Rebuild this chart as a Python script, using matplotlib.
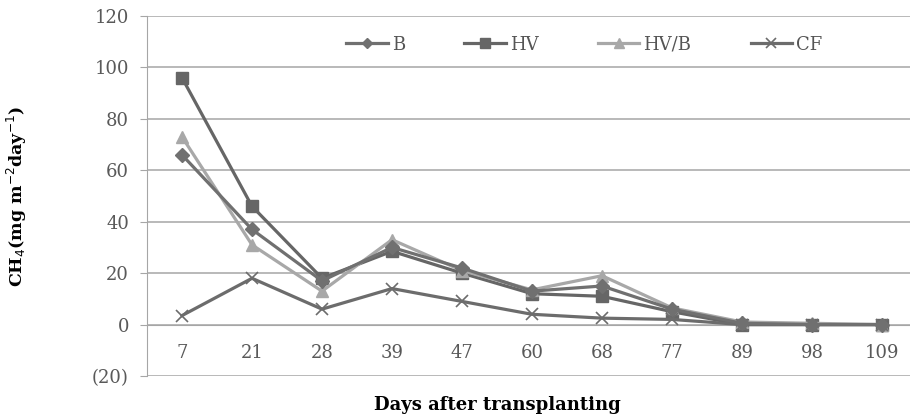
import matplotlib
matplotlib.use("Agg")
import matplotlib.pyplot as plt

days = ["7", "21", "28", "39", "47", "60", "68", "77", "89", "98", "109"]

b_vals = [66, 37, 17, 30, 22, 13, 15, 6, 0.5, 0, 0]
hv_vals = [96, 46, 18, 28.5, 20, 12, 11, 5, 0, 0, 0]
hvb_vals = [73, 31, 13, 33, 21, 13.5, 19, 6.5, 1, 0.5, 0]
cf_vals = [3.5, 18, 6, 14, 9, 4, 2.5, 2, 0, 0, 0]

y_ticks = [-20, 0, 20, 40, 60, 80, 100, 120]
y_labels = ["(20)", "0", "20", "40", "60", "80", "100", "120"]

FONT = "DejaVu Serif"
GRID = "#a6a6a6"
TXT = "#595959"

fig = plt.figure(figsize=(9.1, 4.17), dpi=100)
ax = fig.add_axes([147 / 910, 1 - 376 / 417, 1 - 147 / 910, (376 - 16) / 417])

x = list(range(len(days)))
ax.plot(x, b_vals, color="#707070", lw=2.3, marker="D", ms=7, label="B", zorder=4)
ax.plot(x, hv_vals, color="#666666", lw=2.3, marker="s", ms=9, label="HV", zorder=3)
ax.plot(x, hvb_vals, color="#a8a8a8", lw=2.3, marker="^", ms=9, label="HV/B", zorder=3)
ax.plot(x, cf_vals, color="#6c6c6c", lw=2.3, marker="x", ms=9, mew=1.2,
        label="CF", zorder=3)

# x axis sits on the zero line, like the excel original
ax.spines["bottom"].set_position(("data", 0))
ax.spines["bottom"].set_color(GRID)
ax.spines["top"].set_visible(False)
ax.spines["right"].set_visible(False)
ax.spines["left"].set_color(GRID)

ax.set_ylim(-20, 120)
ax.set_xlim(-0.5, 10.4)
ax.set_yticks(y_ticks)
ax.set_yticklabels(y_labels, family=FONT, fontsize=13, color=TXT)
ax.yaxis.grid(True, color=GRID, lw=1.1)
ax.set_axisbelow(True)

ax.set_xticks(x)
ax.set_xticklabels(days, family=FONT, fontsize=13, color=TXT)
ax.tick_params(axis="x", length=0, pad=14, labelsize=13)
ax.tick_params(axis="y", length=5, color=GRID, pad=8, labelsize=13)

ax.set_ylabel("CH$_4$(mg m$^{-2}$day$^{-1}$)", family=FONT, fontweight="bold",
              fontsize=12.5)
ax.yaxis.set_label_coords(-0.155, 0.5)
fig.text(497 / 910, 1 - 405 / 417, "Days after transplanting", family=FONT,
         fontweight="bold", fontsize=13, ha="center", va="center")

leg = ax.legend(loc="center", bbox_to_anchor=(0.573, 0.92), ncol=4, frameon=False,
                prop={"family": FONT, "size": 13}, handlelength=2.3,
                handletextpad=0.2, columnspacing=3.3, markerscale=0.8)
for t in leg.get_texts():
    t.set_color("#555555")

fig.savefig("out.png", dpi=100)
